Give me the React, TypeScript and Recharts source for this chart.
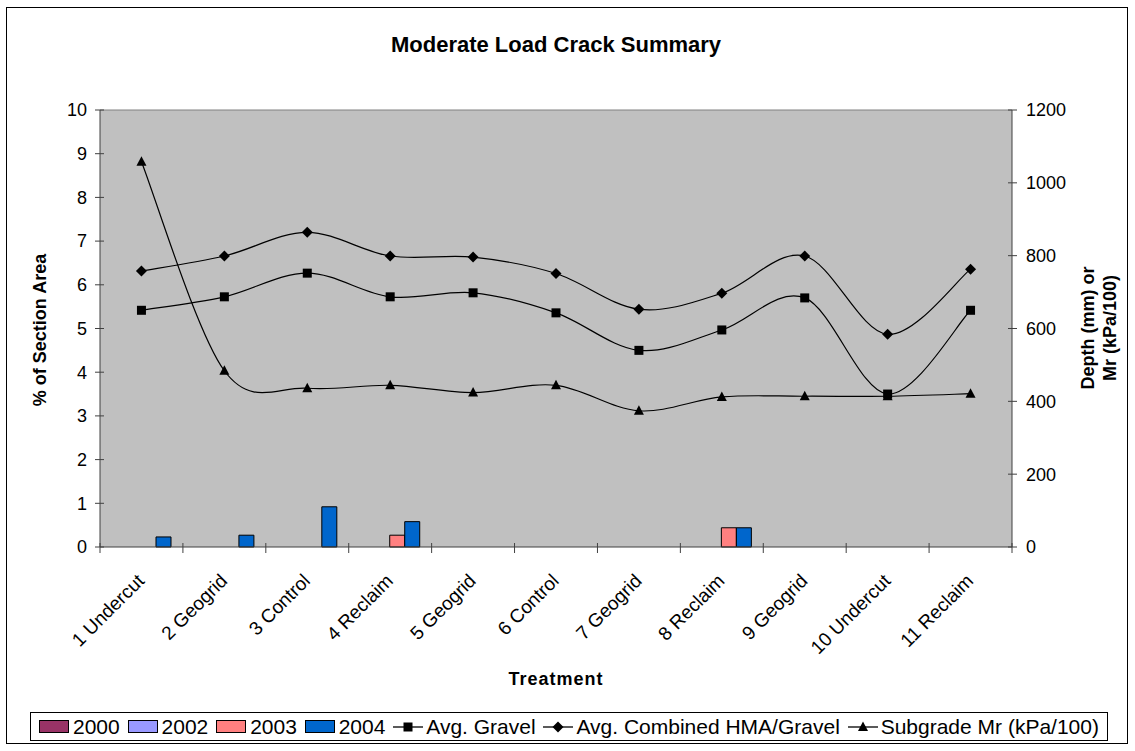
import React from 'react';
import { ComposedChart, Bar, Line, XAxis, YAxis, CartesianGrid, ReferenceLine } from 'recharts';

// treatment sections along the x axis
const categories = [
  '1 Undercut', '2 Geogrid', '3 Control', '4 Reclaim', '5 Geogrid', '6 Control',
  '7 Geogrid', '8 Reclaim', '9 Geogrid', '10 Undercut', '11 Reclaim',
];

// % of section area with moderate load cracking, by survey year
const crack2000 = [0, 0, 0, 0, 0, 0, 0, 0, 0, 0, 0];
const crack2002 = [0, 0, 0, 0, 0, 0, 0, 0, 0, 0, 0];
const crack2003 = [0, 0, 0, 0.27, 0, 0, 0, 0.44, 0, 0, 0];
const crack2004 = [0.23, 0.27, 0.92, 0.58, 0, 0, 0, 0.44, 0, 0, 0];

// depth (mm) or Mr (kPa/100), right axis
const avgGravel = [650, 687, 752, 687, 698, 643, 540, 596, 684, 420, 650];
const avgCombined = [758, 799, 864, 799, 796, 751, 653, 697, 799, 584, 763];
const subgradeMr = [1058, 484, 436, 444, 424, 444, 374, 412, 414, 414, 421];

const leftTicks = [0, 1, 2, 3, 4, 5, 6, 7, 8, 9, 10];
const rightTicks = [0, 200, 400, 600, 800, 1000, 1200];

const data = categories.map((name, i) => ({
  name,
  y2000: crack2000[i],
  y2002: crack2002[i],
  y2003: crack2003[i],
  y2004: crack2004[i],
  gravel: avgGravel[i],
  combined: avgCombined[i],
  subgrade: subgradeMr[i],
}));

const W = 1135;
const H = 751;
const PLOT_L = 100;
const PLOT_R = 1012;
const BAND = (PLOT_R - PLOT_L) / categories.length;
const FONT = '"Liberation Sans", Arial, sans-serif';
const AXIS = '#404040';

// Excel-style smoothing: bezier with catmull-rom control points
const excelCurve = (context: any) => {
  let xs: number[] = [];
  let ys: number[] = [];
  return {
    areaStart() {},
    areaEnd() {},
    lineStart() {
      xs = [];
      ys = [];
    },
    point(x: number, y: number) {
      xs.push(+x);
      ys.push(+y);
    },
    lineEnd() {
      const n = xs.length;
      if (!n) return;
      context.moveTo(xs[0], ys[0]);
      if (n === 2) {
        context.lineTo(xs[1], ys[1]);
        return;
      }
      for (let i = 0; i < n - 1; i++) {
        const p0 = Math.max(i - 1, 0);
        const p3 = Math.min(i + 2, n - 1);
        const c1x = xs[i] + (xs[i + 1] - xs[p0]) / 6;
        const c1y = ys[i] + (ys[i + 1] - ys[p0]) / 6;
        const c2x = xs[i + 1] - (xs[p3] - xs[i]) / 6;
        const c2y = ys[i + 1] - (ys[p3] - ys[i]) / 6;
        context.bezierCurveTo(c1x, c1y, c2x, c2y, xs[i + 1], ys[i + 1]);
      }
    },
  };
};

const squareDot = (p: any) => (
  <rect key={`sq-${p.index}`} x={p.cx - 4.5} y={p.cy - 4.5} width={9} height={9} fill="#000" />
);
const diamondDot = (p: any) => (
  <polygon
    key={`di-${p.index}`}
    points={`${p.cx},${p.cy - 5.5} ${p.cx + 5.5},${p.cy} ${p.cx},${p.cy + 5.5} ${p.cx - 5.5},${p.cy}`}
    fill="#000"
  />
);
const triangleDot = (p: any) => (
  <polygon
    key={`tr-${p.index}`}
    points={`${p.cx},${p.cy - 5.5} ${p.cx + 5},${p.cy + 4} ${p.cx - 5},${p.cy + 4}`}
    fill="#000"
  />
);

const XTick = (props: any) => {
  const { x, y, payload, index } = props;
  const half = BAND / 2;
  const tx = x + 4;
  const ty = y + 35;
  return (
    <g>
      <line x1={x - half} x2={x - half} y1={y - 4} y2={y + 6} stroke={AXIS} />
      {index === categories.length - 1 && (
        <line x1={x + half} x2={x + half} y1={y - 4} y2={y + 6} stroke={AXIS} />
      )}
      <text
        x={tx}
        y={ty}
        transform={`rotate(-45, ${tx}, ${ty})`}
        textAnchor="end"
        fontSize={19}
        fontFamily={FONT}
        fill="#000"
      >
        {payload.value}
      </text>
    </g>
  );
};

// excel "cross" tick marks: line straddles the axis
const LeftTick = (props: any) => {
  const { x, y, payload } = props;
  return (
    <g>
      <line x1={x - 5} x2={x + 4} y1={y} y2={y} stroke={AXIS} />
      <text x={x - 13} y={y} dy="0.355em" textAnchor="end" fontSize={18} fontFamily={FONT} fill="#000">
        {payload.value}
      </text>
    </g>
  );
};

const RightTick = (props: any) => {
  const { x, y, payload } = props;
  return (
    <g>
      <line x1={x - 4} x2={x + 5} y1={y} y2={y} stroke={AXIS} />
      <text x={x + 14} y={y} dy="0.355em" textAnchor="start" fontSize={18} fontFamily={FONT} fill="#000">
        {payload.value}
      </text>
    </g>
  );
};

const barSeries = [
  { key: 'y2000', label: '2000', color: '#993366' },
  { key: 'y2002', label: '2002', color: '#9999FF' },
  { key: 'y2003', label: '2003', color: '#FF8080' },
  { key: 'y2004', label: '2004', color: '#0066CC' },
];

const lineSeries = [
  { key: 'gravel', label: 'Avg. Gravel', dot: squareDot },
  { key: 'combined', label: 'Avg. Combined HMA/Gravel', dot: diamondDot },
  { key: 'subgrade', label: 'Subgrade Mr (kPa/100)', dot: triangleDot },
];

const LegendBox = () => (
  <div
    style={{
      position: 'absolute',
      left: 30,
      top: 712,
      width: 1078,
      height: 29,
      boxSizing: 'border-box',
      border: '1px solid #000',
      display: 'flex',
      alignItems: 'center',
      justifyContent: 'space-between',
      padding: '0 8px',
      fontFamily: FONT,
      fontSize: 21,
      background: '#fff',
    }}
  >
    {barSeries.map((s) => (
      <div key={s.key} style={{ display: 'flex', alignItems: 'center', gap: 4 }}>
        <div style={{ width: 28, height: 11, background: s.color, border: '1px solid #000' }} />
        <span>{s.label}</span>
      </div>
    ))}
    {lineSeries.map((s) => (
      <div key={s.key} style={{ display: 'flex', alignItems: 'center', gap: 3 }}>
        <svg width={30} height={14}>
          <line x1={0} x2={30} y1={7} y2={7} stroke="#000" strokeWidth={1.3} />
          {s.dot({ cx: 15, cy: 7, index: 0 })}
        </svg>
        <span>{s.label}</span>
      </div>
    ))}
  </div>
);

export default function App() {
  return (
    <div style={{ position: 'absolute', left: 0, top: 0, width: W, height: H, background: '#fff' }}>
      <ComposedChart
        width={W}
        height={H}
        data={data}
        margin={{ top: 110, right: 43, bottom: 104, left: 40 }}
        barGap={0}
      >
        <CartesianGrid yAxisId="left" horizontal={false} vertical={false} fill="#C0C0C0" fillOpacity={1} />
        <XAxis
          dataKey="name"
          height={100}
          interval={0}
          tickLine={false}
          tickSize={0}
          tickMargin={0}
          tick={<XTick />}
          axisLine={{ stroke: AXIS }}
        />
        <YAxis
          yAxisId="left"
          width={60}
          domain={[0, 10]}
          ticks={leftTicks}
          interval={0}
          tickLine={false}
          tickSize={0}
          tickMargin={0}
          axisLine={{ stroke: AXIS }}
          tick={<LeftTick />}
        />
        <YAxis
          yAxisId="right"
          orientation="right"
          width={80}
          domain={[0, 1200]}
          ticks={rightTicks}
          interval={0}
          tickLine={false}
          tickSize={0}
          tickMargin={0}
          axisLine={{ stroke: AXIS }}
          tick={<RightTick />}
        />
        <ReferenceLine yAxisId="left" y={10} stroke="#808080" />
        {barSeries.map((s) => (
          <Bar
            key={s.key}
            yAxisId="left"
            dataKey={s.key}
            fill={s.color}
            stroke="#000"
            strokeWidth={1}
            barSize={15}
            isAnimationActive={false}
          />
        ))}
        {lineSeries.map((s) => (
          <Line
            key={s.key}
            yAxisId="right"
            dataKey={s.key}
            type={excelCurve as any}
            stroke="#000"
            strokeWidth={1.2}
            dot={s.dot}
            activeDot={false}
            isAnimationActive={false}
          />
        ))}
      </ComposedChart>
      <svg
        width={W}
        height={H}
        style={{ position: 'absolute', left: 0, top: 0, pointerEvents: 'none' }}
      >
        <rect x={6.5} y={7.5} width={1121} height={736} fill="none" stroke="#000" />
        <text x={556} y={51.5} textAnchor="middle" fontFamily={FONT} fontWeight="bold" fontSize={22}>
          Moderate Load Crack Summary
        </text>
        <text
          x={556}
          y={685}
          textAnchor="middle"
          fontFamily={FONT}
          fontWeight="bold"
          fontSize={18}
          letterSpacing={1}
        >
          Treatment
        </text>
        <text
          transform="translate(46, 330) rotate(-90)"
          textAnchor="middle"
          fontFamily={FONT}
          fontWeight="bold"
          fontSize={18}
        >
          % of Section Area
        </text>
        <text
          transform="translate(1094, 328) rotate(-90)"
          textAnchor="middle"
          fontFamily={FONT}
          fontWeight="bold"
          fontSize={18}
        >
          Depth (mm) or
        </text>
        <text
          transform="translate(1116, 328) rotate(-90)"
          textAnchor="middle"
          fontFamily={FONT}
          fontWeight="bold"
          fontSize={18}
        >
          Mr (kPa/100)
        </text>
      </svg>
      <LegendBox />
    </div>
  );
}
